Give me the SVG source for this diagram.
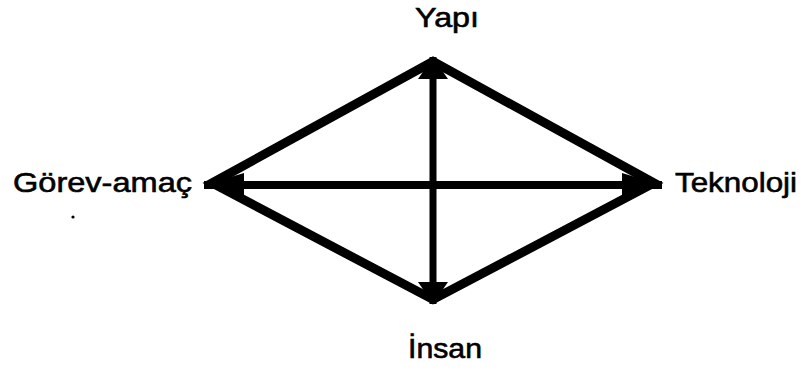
<svg xmlns="http://www.w3.org/2000/svg" width="802" height="370" viewBox="0 0 802 370">
<style>
.lbl{font-family:"Liberation Sans",Arial,sans-serif;font-size:28px;fill:#000;stroke:#000;stroke-width:0.6}
.edge{fill:none;stroke:#000;stroke-linejoin:miter}
</style>
<defs>
<marker id="ahH" markerUnits="userSpaceOnUse" markerWidth="40" markerHeight="24" viewBox="0 -12 40 24" refX="40" refY="0" orient="auto-start-reverse"><path d="M0,-12 L40,0 L0,12 z" fill="#000"/></marker>
<marker id="ahV" markerUnits="userSpaceOnUse" markerWidth="22" markerHeight="30" viewBox="0 -15 22 30" refX="22" refY="0" orient="auto-start-reverse"><path d="M0,-15 L22,0 L0,15 z" fill="#000"/></marker>
</defs>
<rect width="802" height="370" fill="#fff"/>
<g id="connectors">
<polygon class="edge" stroke-width="9" points="212,183 433,61.5 654,183 433,299.5"/>
<line class="edge" stroke-width="8" x1="204" y1="185" x2="662" y2="185" marker-start="url(#ahH)" marker-end="url(#ahH)"/>
<line class="edge" stroke-width="7" x1="433" y1="57" x2="433" y2="304" marker-start="url(#ahV)" marker-end="url(#ahV)"/>
</g>
<g id="node-yapi"><text class="lbl" x="415" y="27" textLength="64" lengthAdjust="spacingAndGlyphs">Yapı</text></g>
<g id="node-gorev"><text class="lbl" x="13" y="192" textLength="179" lengthAdjust="spacingAndGlyphs">Görev-amaç</text></g>
<g id="node-teknoloji"><text class="lbl" x="675" y="192" textLength="122" lengthAdjust="spacingAndGlyphs">Teknoloji</text></g>
<g id="node-insan"><text class="lbl" x="408" y="358" textLength="74" lengthAdjust="spacingAndGlyphs">İnsan</text></g>
<circle cx="73" cy="217" r="1.6" fill="#000"/>
</svg>
